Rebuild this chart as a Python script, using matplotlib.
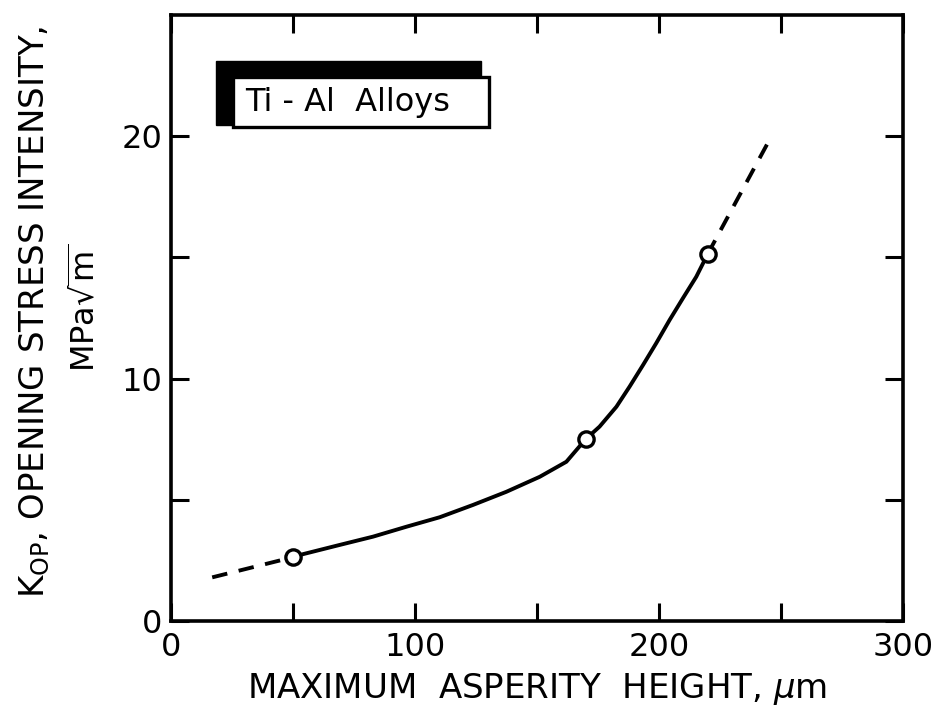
import matplotlib
matplotlib.use("Agg")
import matplotlib.pyplot as plt
from matplotlib.patches import Rectangle

# ---- data ----
meas_x = [50, 170, 220]
meas_y = [2.63, 7.5, 15.14]

solid_x = [50, 54.3, 69.3, 82.9, 96.6, 110.2, 123.9, 137.5, 151.2, 162.1, 170,
           175.7, 182.6, 188, 193.5, 198.9, 204.4, 209.8, 215.3, 220]
solid_y = [2.63, 2.76, 3.14, 3.48, 3.89, 4.28, 4.79, 5.33, 5.95, 6.57, 7.5,
           8.02, 8.84, 9.67, 10.56, 11.46, 12.42, 13.31, 14.2, 15.14]

dash_left_x = [17, 50]
dash_left_y = [1.8, 2.63]
dash_right_x = [220, 244.5]
dash_right_y = [15.14, 19.7]

x_major = [0, 100, 200, 300]
x_minor = [50, 150, 250]
y_major = [0, 10, 20]
y_minor = [5, 15]

xlabel = r"MAXIMUM  ASPERITY  HEIGHT, $\mu$m"
ylabel1 = r"K$_{\mathrm{OP}}$, OPENING STRESS INTENSITY,"
ylabel2 = r"MPa$\sqrt{\mathrm{m}}$"
legend_text = "Ti - Al  Alloys"

plt.rcParams['font.family'] = ['DejaVu Sans']
plt.rcParams['mathtext.fontset'] = 'dejavusans'

fig = plt.figure(figsize=(9.41, 7.10), dpi=100)
ax = fig.add_axes([170.7/941, 1-621/710, (903-170.7)/941, (621-15)/710])

lw = 2.8
ax.plot(solid_x, solid_y, color='black', lw=lw, solid_capstyle='round',
        solid_joinstyle='round', zorder=2)
ax.plot(dash_left_x, dash_left_y, color='black', lw=lw, dashes=(4.0, 3.0), zorder=2)
ax.plot(dash_right_x, dash_right_y, color='black', lw=lw, dashes=(4.0, 3.0), zorder=2)
ax.plot(meas_x, meas_y, linestyle='none', marker='o', ms=11, mfc='white',
        mec='black', mew=2.4, zorder=3)

ax.set_xlim(0, 300)
ax.set_ylim(0, 25)
ax.set_xticks(x_major)
ax.set_xticks(x_minor, minor=True)
ax.set_yticks(y_major)
ax.set_yticks(y_minor, minor=True)
ax.set_xticklabels([str(v) for v in x_major])
ax.set_yticklabels([str(v) for v in y_major])

for which in ('major', 'minor'):
    ax.tick_params(axis='both', which=which, direction='in', length=13, width=2.2,
                   top=True, right=True, color='black')
ax.tick_params(axis='both', which='major', labelsize=23, pad=6)
ax.tick_params(axis='x', which='major', pad=8)

for s in ax.spines.values():
    s.set_linewidth(2.6)

ax.set_xlabel(xlabel, fontsize=24.5, labelpad=6)
fig.text(35/941, 1-312/710, ylabel1, rotation=90, fontsize=24.5, ha='center', va='center')
fig.text(86/941, 1-308/710, ylabel2, rotation=90, fontsize=23, ha='center', va='center')

# legend box with offset shadow
ax.add_patch(Rectangle((0.0619, 0.818), 0.4237-0.0619, 0.924-0.818,
                       transform=ax.transAxes, facecolor='black', edgecolor='black',
                       zorder=4, clip_on=False))
ax.add_patch(Rectangle((0.085, 0.815), 0.4347-0.085, 0.8977-0.815,
                       transform=ax.transAxes, facecolor='white', edgecolor='black',
                       lw=2.4, zorder=5, clip_on=False))
ax.text(0.102, 0.856, legend_text, transform=ax.transAxes, fontsize=23,
        ha='left', va='center', zorder=6)

fig.savefig("out.png", dpi=100)
